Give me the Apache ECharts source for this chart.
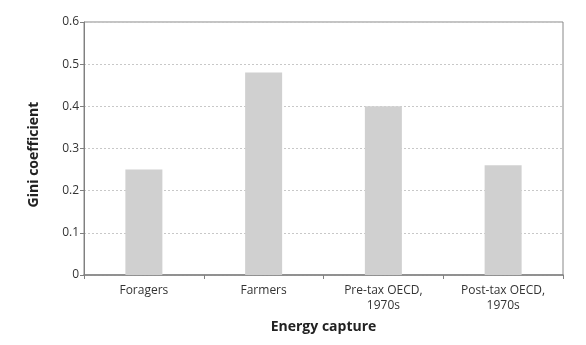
<!DOCTYPE html>
<html><head><meta charset="utf-8">
<script src="https://cdn.jsdelivr.net/npm/echarts@6/dist/echarts.min.js"></script>
<style>html,body{margin:0;padding:0;background:#fff}#c{width:586px;height:345px}</style>
</head><body><div id="c"></div>
<script>
const categories = ['Foragers', 'Farmers', 'Pre-tax OECD,\n1970s', 'Post-tax OECD,\n1970s'];
const giniValues = [0.25, 0.48, 0.40, 0.26];
const yTicks = [0, 0.1, 0.2, 0.3, 0.4, 0.5, 0.6];

const font = '"Open Sans", "Noto Sans", sans-serif';
const chart = echarts.init(document.getElementById('c'));
chart.setOption({
  animation: false,
  grid: { left: 84, right: 23, top: 22, bottom: 70, show: true, borderColor: '#888', borderWidth: 1 },
  xAxis: {
    type: 'category', data: categories,
    name: 'Energy capture', nameLocation: 'middle', nameGap: 45,
    nameTextStyle: { fontFamily: font, fontWeight: 'bold', fontSize: 14, color: '#222' },
    axisLine: { lineStyle: { color: '#808080', width: 1.5 } },
    axisTick: { show: true, alignWithLabel: false, length: 4, lineStyle: { color: '#808080' } },
    axisLabel: { fontFamily: font, fontSize: 12, color: '#333', margin: 8, lineHeight: 15, interval: 0 }
  },
  yAxis: {
    type: 'value', min: 0, max: 0.6, interval: 0.1,
    name: 'Gini coefficient', nameLocation: 'middle', nameGap: 43,
    nameTextStyle: { fontFamily: font, fontWeight: 'bold', fontSize: 14, color: '#222', padding: [0, 12, 0, 0] },
    axisLine: { show: true, lineStyle: { color: '#808080', width: 1 } },
    axisTick: { show: true, length: 4, lineStyle: { color: '#808080' } },
    axisLabel: { fontFamily: font, fontSize: 12, color: '#333', margin: 5,
      formatter: v => { const t = yTicks.find(x => Math.abs(x - v) < 1e-9); return t === 0 ? '0' : String(+(t ?? v).toFixed(1)); } },
    splitLine: { show: true, lineStyle: { color: '#c8c8c8', type: [2, 2], width: 1 } }
  },
  series: [{
    type: 'bar', data: giniValues, barWidth: 37,
    itemStyle: { color: '#d0d0d0' }
  }]
});
</script></body></html>
